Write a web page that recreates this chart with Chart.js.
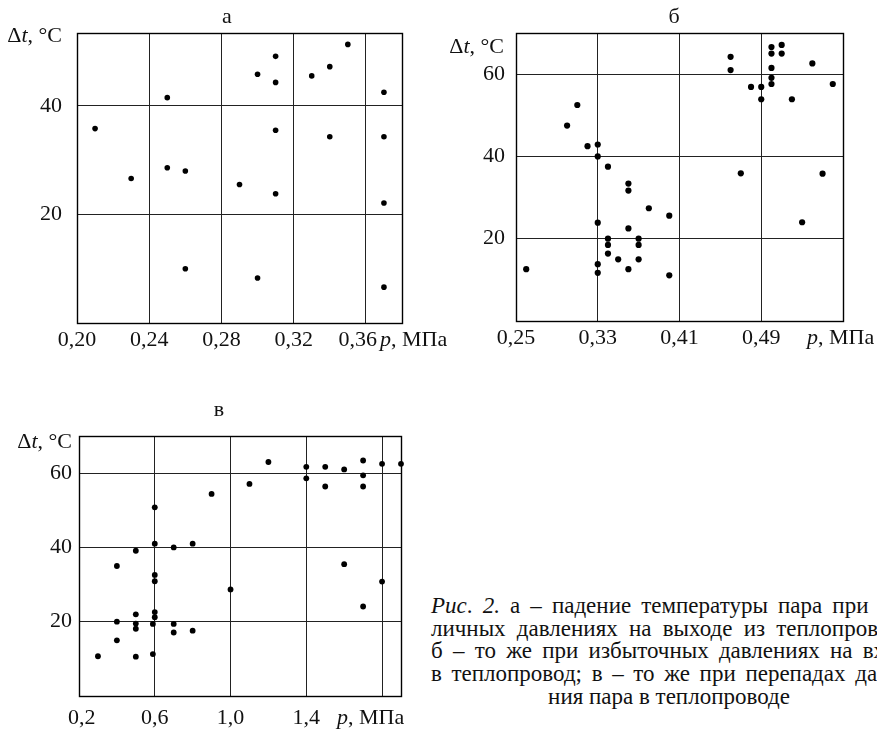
<!DOCTYPE html>
<html><head><meta charset="utf-8">
<script src="https://cdn.jsdelivr.net/npm/chart.js@4/dist/chart.umd.min.js"></script>
<style>
html,body{margin:0;padding:0;background:#fff;width:877px;height:731px;overflow:hidden;position:relative;}
canvas{position:absolute;}
#cap{position:absolute;left:431px;top:595px;width:486px;font-family:"Liberation Serif",Tinos,"Times New Roman","Noto Serif","DejaVu Serif",serif;font-size:23px;line-height:22.7px;color:#111;}
#cap div{text-align:justify;text-align-last:justify;white-space:nowrap;}
#cap div.c{text-align:center;text-align-last:center;padding-right:10px;}
</style></head><body>
<canvas id="ca" width="460" height="370" style="left:0;top:0"></canvas>
<canvas id="cb" width="437" height="370" style="left:440px;top:0"></canvas>
<canvas id="cv" width="430" height="351" style="left:0;top:380px"></canvas>
<div id="cap">
<div><i>Рис</i>. <i>2.</i> а – падение температуры пара при раз-</div>
<div>личных давлениях на выходе из теплопровода;</div>
<div>б – то же при избыточных давлениях на входе</div>
<div>в теплопровод; в – то же при перепадах давле-</div>
<div class="c">ния пара в теплопроводе</div>
</div>
<script>
// ---- chart а ----
const pA = [0.21,0.23,0.25,0.25,0.26,0.26,0.29,0.30,0.30,0.31,0.31,0.31,0.31,0.33,0.34,0.34,0.35,0.37,0.37,0.37,0.37];
const tA = [35.8,26.6,41.5,28.6,28.0,10.0,25.5,45.8,8.3,49.1,44.3,35.5,23.8,45.5,47.2,34.3,51.3,42.5,34.3,22.1,6.6];
const xTicksA = [0.20,0.24,0.28,0.32,0.36];
const xLabelsA = ['0,20','0,24','0,28','0,32','0,36\u00a0\u00a0\u00a0'];
const yTicksA = [20,40];
const yLabelsA = ['20','40'];
// ---- chart б ----
const pB = [0.26,0.30,0.31,0.32,0.33,0.33,0.33,0.33,0.33,0.34,0.34,0.34,0.34,0.35,0.36,0.36,0.36,0.36,0.37,0.37,0.37,0.38,0.40,0.40,0.46,0.46,0.47,0.48,0.49,0.49,0.50,0.50,0.50,0.50,0.50,0.51,0.51,0.52,0.53,0.54,0.55,0.56];
const tB = [12.6,47.5,52.5,42.5,42.9,40.0,23.9,13.8,11.7,37.5,20.0,18.5,16.4,15.0,33.4,31.7,22.5,12.6,20.0,18.5,15.0,27.4,25.6,11.1,64.2,61.0,35.9,56.9,56.9,53.9,66.6,65.0,61.5,59.1,57.6,67.1,65.0,53.9,24.0,62.6,35.8,57.6];
const xTicksB = [0.25,0.33,0.41,0.49];
const xLabelsB = ['0,25','0,33','0,41','0,49'];
const yTicksB = [20,40,60];
const yLabelsB = ['20','40','60'];
// ---- chart в ----
const pV = [0.3,0.4,0.4,0.4,0.5,0.5,0.5,0.5,0.5,0.59,0.59,0.6,0.6,0.6,0.6,0.6,0.6,0.7,0.7,0.7,0.8,0.8,0.9,1.0,1.1,1.2,1.4,1.4,1.5,1.5,1.6,1.6,1.7,1.7,1.7,1.7,1.8,1.8,1.9];
const tV = [10.7,35.0,20.0,15.0,39.1,22.0,19.5,18.1,10.6,11.3,19.4,50.8,41.0,32.6,30.9,22.6,21.2,40.0,19.4,17.1,41.0,17.6,54.4,28.7,57.1,63.0,61.7,58.6,61.7,56.4,61.0,35.5,63.4,59.4,56.4,24.1,62.5,30.8,62.5];
const xTicksV = [0.2,0.6,1.0,1.4,1.8];
const xLabelsV = ['\u00a00,2','0,6','1,0','1,4',''];
const yTicksV = [20,40,60];
const yLabelsV = ['20','40','60'];

const FONT = '"Liberation Serif", Tinos, "Times New Roman", "Noto Serif", "DejaVu Serif", serif';
const FS = 22;

function drawRuns(ctx, runs, x, y, align) {
  let total = 0;
  const w = runs.map(r => { ctx.font = (r[1] ? 'italic ' : '') + FS + 'px ' + FONT; const m = ctx.measureText(r[0]).width; total += m; return m; });
  let cx = align === 'right' ? x - total : x;
  ctx.textAlign = 'left'; ctx.textBaseline = 'middle';
  runs.forEach((r, i) => { ctx.font = (r[1] ? 'italic ' : '') + FS + 'px ' + FONT; ctx.fillText(r[0], cx, y); cx += w[i]; });
}

const figText = {
  id: 'figText',
  beforeDatasetsDraw(chart) {
    const ctx = chart.ctx, ca = chart.chartArea;
    ctx.save();
    ctx.strokeStyle = '#000'; ctx.lineWidth = 1.4;
    ctx.strokeRect(Math.round(ca.left)+0.5, Math.round(ca.top)+0.5, Math.round(ca.right-ca.left), Math.round(ca.bottom-ca.top));
    ctx.restore();
  },
  afterDraw(chart, args, o) {
    const ctx = chart.ctx, ca = chart.chartArea;
    ctx.save();
    ctx.fillStyle = '#111';
    ctx.font = FS + 'px ' + FONT; ctx.textAlign = 'center'; ctx.textBaseline = 'middle';
    ctx.fillText(o.title, o.titleX, o.titleY);
    drawRuns(ctx, [['Δ', false], ['t', true], [', °C', false]], ca.left - o.yGap, ca.top + o.yDy, 'right');
    drawRuns(ctx, [['p', true], [', МПа', false]], ca.right + o.xDx, ca.bottom + o.xDy, 'left');
    ctx.restore();
  }
};

function makeChart(id, xs, ys, g) {
  const pts = xs.map((x, i) => ({x: x, y: ys[i]}));
  return new Chart(document.getElementById(id), {
    type: 'scatter',
    data: { datasets: [{ data: pts, backgroundColor: '#000', borderWidth: 0, pointRadius: g.r, pointHoverRadius: g.r, clip: false }] },
    plugins: [figText],
    options: {
      responsive: false, animation: false, events: [],
      layout: { padding: { left: 0, top: g.top, right: g.right, bottom: 0 } },
      plugins: { legend: { display: false }, tooltip: { enabled: false }, figText: g.text },
      scales: {
        x: {
          type: 'linear', min: g.xmin, max: g.xmax,
          afterBuildTicks: s => { s.ticks = g.xt.map(v => ({value: v})); },
          afterFit: s => { s.height = g.xh; },
          grid: { color: '#222', lineWidth: 1, drawTicks: false },
          border: { display: false },
          ticks: { autoSkip: false, maxRotation: 0, padding: g.xpad, color: '#111', font: { family: FONT, size: FS },
                   callback: (v, i) => g.xl[i] }
        },
        y: {
          type: 'linear', min: 0, max: g.ymax,
          afterBuildTicks: s => { s.ticks = g.yt.map(v => ({value: v})); },
          afterFit: s => { s.width = g.yw; },
          grid: { color: '#222', lineWidth: 1, drawTicks: false },
          border: { display: false },
          ticks: { autoSkip: false, padding: g.ypad, color: '#111', font: { family: FONT, size: FS },
                   callback: (v, i) => g.yl[i] }
        }
      }
    }
  });
}

const charts = [
makeChart('ca', pA, tA, { r: 2.8, top: 33, right: 58, xh: 47, yw: 77, xmin: 0.20, xmax: 0.38, ymax: 53.4,
  xt: xTicksA, xl: xLabelsA, yt: yTicksA, yl: yLabelsA, xpad: 4, ypad: 15,
  text: { title: 'а', titleX: 227, titleY: 17, yGap: 15, yDy: 3, xDx: -22, xDy: 17 } }),
makeChart('cb', pB, tB, { r: 3.1, top: 33, right: 34, xh: 49, yw: 76, xmin: 0.25, xmax: 0.57, ymax: 70,
  xt: xTicksB, xl: xLabelsB, yt: yTicksB, yl: yLabelsB, xpad: 4, ypad: 11,
  text: { title: 'б', titleX: 234, titleY: 17, yGap: 12, yDy: 14, xDx: -36, xDy: 17 } }),
makeChart('cv', pV, tV, { r: 2.9, top: 56, right: 29, xh: 35, yw: 79, xmin: 0.2, xmax: 1.9, ymax: 70,
  xt: xTicksV, xl: xLabelsV, yt: yTicksV, yl: yLabelsV, xpad: 9, ypad: 7,
  text: { title: 'в', titleX: 219, titleY: 30, yGap: 7, yDy: 6, xDx: -64, xDy: 22 } })
];

if (document.fonts && document.fonts.load) {
  document.fonts.load('22px "Liberation Serif"').then(() => charts.forEach(c => c.update('none'))).catch(() => {});
}
</script>
</body></html>
